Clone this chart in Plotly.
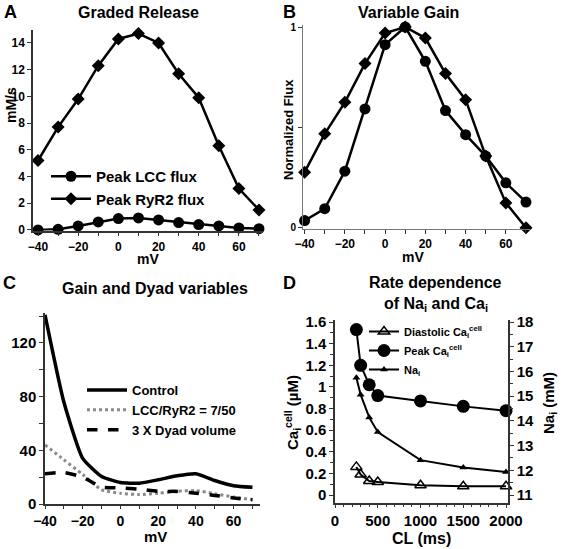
import plotly.graph_objects as go

# ---------- Data ----------
mv = [-40, -30, -20, -10, 0, 10, 20, 30, 40, 50, 60, 70]
peak_lcc = [0.0, 0.05, 0.3, 0.6, 0.85, 0.9, 0.75, 0.55, 0.4, 0.3, 0.15, 0.1]
peak_ryr2 = [5.2, 7.7, 9.8, 12.3, 14.3, 14.7, 14.0, 11.7, 9.9, 6.3, 3.1, 1.5]

norm_lcc = [0.036, 0.095, 0.282, 0.592, 0.912, 1.0, 0.829, 0.584, 0.464, 0.357, 0.224, 0.128]
norm_ryr2 = [0.277, 0.468, 0.625, 0.818, 0.97, 1.0, 0.945, 0.768, 0.638, 0.357, 0.124, 0.0]

gain_control = [141, 76, 34, 20.5, 16, 15.5, 18, 21, 22.5, 17.5, 13.6, 12.4]
gain_lcc_ryr2 = [44, 33, 22, 10.6, 8, 7, 8, 9.4, 10, 7.7, 5.2, 3.2]
gain_dyad3x = [22.5, 23.5, 20, 12.6, 12, 11, 9.4, 9.4, 8, 6.4, 4.5, 3.2]

cl_ms = [250, 300, 400, 500, 1000, 1500, 2000]
diastolic_ca = [0.26, 0.19, 0.13, 0.12, 0.09, 0.08, 0.08]
peak_ca = [1.53, 1.2, 1.02, 0.92, 0.87, 0.82, 0.78]
na_i = [15.75, 15.06, 14.14, 13.55, 12.41, 12.11, 11.93]

W, H = 562, 549
FONT = "Liberation Sans, Arial, Helvetica, sans-serif"


def px(x):
    return x / W


def py(y):
    return 1 - y / H


fig = go.Figure()

# ---------- Panel A ----------
fig.add_trace(go.Scatter(x=mv, y=peak_lcc, mode="lines+markers", name="Peak LCC flux",
                         line=dict(color="black", width=2.5), cliponaxis=False,
                         marker=dict(symbol="circle", size=11, color="black"),
                         xaxis="x", yaxis="y", legend="legend"))
fig.add_trace(go.Scatter(x=mv, y=peak_ryr2, mode="lines+markers", name="Peak RyR2 flux",
                         line=dict(color="black", width=2.5), cliponaxis=False,
                         marker=dict(symbol="diamond", size=10, color="black"),
                         xaxis="x", yaxis="y", legend="legend"))

# ---------- Panel B ----------
fig.add_trace(go.Scatter(x=mv, y=norm_lcc, mode="lines+markers", showlegend=False,
                         line=dict(color="black", width=2.5), cliponaxis=False,
                         marker=dict(symbol="circle", size=11, color="black"),
                         xaxis="x2", yaxis="y2"))
fig.add_trace(go.Scatter(x=mv, y=norm_ryr2, mode="lines+markers", showlegend=False,
                         line=dict(color="black", width=2.5), cliponaxis=False,
                         marker=dict(symbol="diamond", size=10, color="black"),
                         xaxis="x2", yaxis="y2"))

# ---------- Panel C ----------
fig.add_trace(go.Scatter(x=mv, y=gain_control, mode="lines", name="Control",
                         line=dict(color="black", width=3.5, shape="spline", smoothing=0.5),
                         xaxis="x3", yaxis="y3", legend="legend2"))
fig.add_trace(go.Scatter(x=mv, y=gain_lcc_ryr2, mode="lines", name="LCC/RyR2 = 7/50",
                         line=dict(color="#8a8a8a", width=3, dash="dot", shape="spline", smoothing=0.5),
                         xaxis="x3", yaxis="y3", legend="legend2"))
fig.add_trace(go.Scatter(x=mv, y=gain_dyad3x, mode="lines", name="3 X Dyad volume",
                         line=dict(color="black", width=3.5, dash="dash", shape="spline", smoothing=0.5),
                         xaxis="x3", yaxis="y3", legend="legend2"))

# ---------- Panel D ----------
fig.add_trace(go.Scatter(x=cl_ms, y=diastolic_ca, mode="lines+markers",
                         name="Diastolic Ca<sub>i</sub><sup>cell</sup>",
                         line=dict(color="black", width=2), cliponaxis=False,
                         marker=dict(symbol="triangle-up-open", size=10, color="black", line=dict(width=1.5)),
                         xaxis="x4", yaxis="y4", legend="legend3"))
fig.add_trace(go.Scatter(x=cl_ms, y=peak_ca, mode="lines+markers",
                         name="Peak Ca<sub>i</sub><sup>cell</sup>",
                         line=dict(color="black", width=2), cliponaxis=False,
                         marker=dict(symbol="circle", size=13, color="black"),
                         xaxis="x4", yaxis="y4", legend="legend3"))
fig.add_trace(go.Scatter(x=cl_ms, y=na_i, mode="lines+markers",
                         name="Na<sub>i</sub>",
                         line=dict(color="black", width=2), cliponaxis=False,
                         marker=dict(symbol="triangle-up", size=7, color="black"),
                         xaxis="x4", yaxis="y5", legend="legend3"))


def axis_common(size):
    return dict(showline=True, linecolor="#333", linewidth=1.5, ticks="outside", ticklen=4,
                tickwidth=1.2, tickcolor="#333", showgrid=False, zeroline=False, automargin=False,
                tickfont=dict(family=FONT, size=size, color="black", weight="bold"))


# Axis definitions
xa = axis_common(12)
xa.update(domain=[px(33), px(263)], range=[-42.5, 72], anchor="y",
          tickvals=[-40, -20, 0, 20, 40, 60], minor=dict(dtick=10, tick0=-40, ticks="outside", ticklen=4, tickcolor="#333"))
ya = axis_common(12)
ya.update(domain=[py(230.5), py(29.6)], range=[-0.04, 15], anchor="x", dtick=2)

xb = axis_common(12)
xb.update(domain=[px(303), px(530)], range=[-40.8, 72], anchor="y2",
          tickvals=[-40, -20, 0, 20, 40, 60], minor=dict(dtick=10, tick0=-40, ticks="outside", ticklen=4, tickcolor="#333"))
yb = axis_common(10)
yb.update(domain=[py(229), py(25)], range=[-0.006, 1.01], anchor="x2",
          tickvals=[0, 0.5, 1], ticktext=["0", "", "1"], linewidth=1, linecolor="#777")
xb["linewidth"] = 1
xb["linecolor"] = "#777"

xc = axis_common(14)
xc.update(domain=[px(45), px(260)], range=[-40, 74], anchor="y3", ticklen=3,
          tickvals=[-40, -20, 0, 20, 40, 60], minor=dict(dtick=10, tick0=-40, ticks="outside", ticklen=3, tickcolor="#333"))
yc = axis_common(15)
yc.update(domain=[py(504), py(313)], range=[0, 142.3], anchor="x3",
          tickvals=[0, 40, 80, 120], minor=dict(dtick=20, tick0=0, ticks="outside", ticklen=4, tickcolor="#333"))

D_LO, D_HI = -0.074, 1.619
xd = axis_common(15)
xd.update(domain=[px(335), px(508)], range=[0, 2023], anchor="y4", ticklen=3,
          tickvals=[0, 500, 1000, 1500, 2000], minor=dict(dtick=100, tick0=0, ticks="outside", ticklen=2, tickcolor="#333"))
yd = axis_common(15)
yd.update(domain=[py(503), py(320)], range=[D_LO, D_HI], anchor="x4",
          tickvals=[0, 0.2, 0.4, 0.6, 0.8, 1, 1.2, 1.4, 1.6],
          ticktext=["0", "0.2", "0.4", "0.6", "0.8", "1", "1.2", "1.4", "1.6"],
          minor=dict(dtick=0.1, tick0=0, ticks="outside", ticklen=3, tickcolor="#333"))
ye = axis_common(15)
ye.update(range=[11 + D_LO * 4.375, 11 + D_HI * 4.375], anchor="x4", overlaying="y4",
          side="right", dtick=1, tick0=11,
          minor=dict(dtick=0.5, tick0=11, ticks="outside", ticklen=3, tickcolor="#333"))

ann = []


def label(x, y, text, size, angle=0, xanchor="center"):
    ann.append(dict(x=px(x), y=py(y), xref="paper", yref="paper", text=text, showarrow=False,
                    textangle=angle, xanchor=xanchor, yanchor="middle",
                    font=dict(family=FONT, size=size, color="black", weight="bold")))


# Panel letters
label(10, 12, "A", 18)
label(289, 12, "B", 18)
label(9, 283, "C", 18)
label(289, 283, "D", 18)
# Titles
label(138, 13, "Graded Release", 16)
label(408, 12, "Variable Gain", 16)
label(155, 288, "Gain and Dyad variables", 16)
label(436, 282, "Rate dependence", 16)
label(436, 304, "of Na<sub>i</sub> and Ca<sub>i</sub>", 16)
# Axis titles
label(148, 259, "mV", 14)
label(11, 105, "mM/s", 14, angle=-90)
label(413, 257, "mV", 14)
label(289, 130, "Normalized Flux", 13, angle=-90)
label(155, 536, "mV", 15)
label(421, 538, "CL (ms)", 16)
label(292, 413, "Ca<sub>i</sub><sup>cell</sup> (µM)", 15, angle=-90)
label(549, 403, "Na<sub>i</sub> (mM)", 15, angle=-90)

fig.update_layout(
    template="none",
    width=W, height=H,
    margin=dict(l=0, r=0, t=0, b=0, autoexpand=False),
    paper_bgcolor="white", plot_bgcolor="white",
    font=dict(family=FONT, color="black"),
    xaxis=xa, yaxis=ya, xaxis2=xb, yaxis2=yb, xaxis3=xc, yaxis3=yc,
    xaxis4=xd, yaxis4=yd, yaxis5=ye,
    legend=dict(x=px(46), y=py(160), xanchor="left", yanchor="top", bgcolor="rgba(0,0,0,0)",
                font=dict(family=FONT, size=15, color="black", weight="bold"), tracegroupgap=0,
                itemwidth=40),
    legend2=dict(x=px(82), y=py(375), xanchor="left", yanchor="top", bgcolor="rgba(0,0,0,0)",
                 font=dict(family=FONT, size=13, color="black", weight="bold"), itemwidth=40),
    legend3=dict(x=px(364), y=py(317), xanchor="left", yanchor="top", bgcolor="rgba(0,0,0,0)",
                 font=dict(family=FONT, size=11, color="black", weight="bold"), itemwidth=30),
    annotations=ann,
    showlegend=True,
)

fig.write_html(
    "out.html",
    config={"displayModeBar": False},
    post_script="document.body.style.margin='0';document.body.style.overflow='hidden';",
)
